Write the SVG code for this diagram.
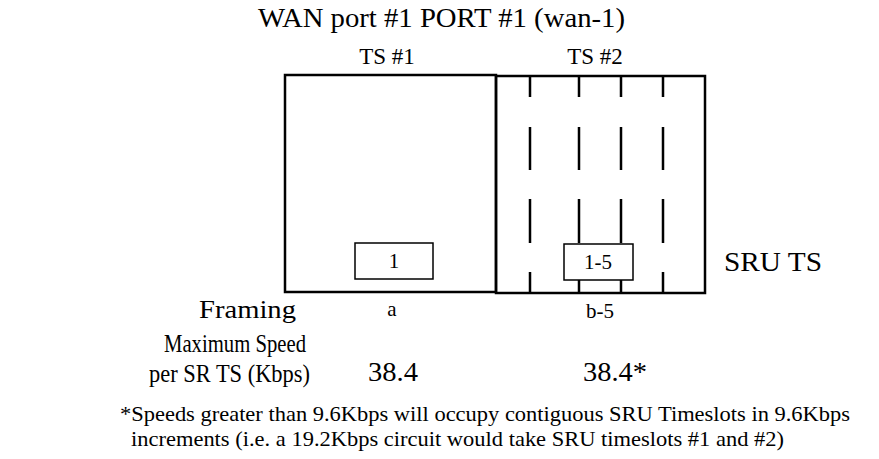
<svg xmlns="http://www.w3.org/2000/svg" width="879" height="459" viewBox="0 0 879 459">
<style>
.t{font-family:"Liberation Serif",serif}
.c{font-family:"Liberation Serif",serif;text-anchor:middle}
.box{fill:none;stroke:#000;stroke-width:2.5}
.slot{fill:#fff;stroke:#000;stroke-width:1.5}
.dash{stroke:#000;stroke-width:2.5;stroke-dasharray:21 29 44 29 43 30 21}
</style>
<rect width="879" height="459" fill="#fff"/>
<g id="title">
<text class="t" x="258" y="27" font-size="27" textLength="367" lengthAdjust="spacingAndGlyphs">WAN port #1 PORT #1 (wan-1)</text>
</g>
<g id="ts1">
<text class="c" x="387" y="64" font-size="23">TS #1</text>
<rect class="box" x="285" y="75" width="211" height="217"/>
</g>
<g id="ts2">
<text class="c" x="595" y="64" font-size="23">TS #2</text>
<rect class="box" x="496" y="76" width="209" height="217"/>
</g>
<g id="connectors">
<line class="dash" x1="530" y1="293" x2="530" y2="77"/>
<line class="dash" x1="579" y1="293" x2="579" y2="77"/>
<line class="dash" x1="621" y1="293" x2="621" y2="77"/>
<line class="dash" x1="663" y1="293" x2="663" y2="77"/>
</g>
<g id="sru1">
<rect class="slot" x="355" y="243" width="78" height="36"/>
<text class="c" x="394" y="268" font-size="21">1</text>
</g>
<g id="sru2">
<rect class="slot" x="564" y="244" width="69" height="36"/>
<text class="c" x="598" y="269" font-size="21">1-5</text>
</g>
<g id="labels">
<text class="t" x="724" y="271" font-size="27" textLength="98" lengthAdjust="spacingAndGlyphs">SRU TS</text>
<text class="t" x="199" y="318" font-size="26" textLength="97" lengthAdjust="spacingAndGlyphs">Framing</text>
<text class="c" x="392" y="316" font-size="21">a</text>
<text class="c" x="600" y="318" font-size="21">b-5</text>
<text class="t" x="164" y="352" font-size="26" textLength="142" lengthAdjust="spacingAndGlyphs">Maximum Speed</text>
<text class="t" x="149" y="382" font-size="26" textLength="161" lengthAdjust="spacingAndGlyphs">per SR TS (Kbps)</text>
<text class="t" x="368" y="381" font-size="27" textLength="50" lengthAdjust="spacingAndGlyphs">38.4</text>
<text class="t" x="583" y="381" font-size="27" textLength="64" lengthAdjust="spacingAndGlyphs">38.4*</text>
<text class="t" x="120" y="421" font-size="22" textLength="730" lengthAdjust="spacingAndGlyphs">*Speeds greater than 9.6Kbps will occupy contiguous SRU Timeslots in 9.6Kbps</text>
<text class="t" x="131" y="446" font-size="22" textLength="653" lengthAdjust="spacingAndGlyphs">increments (i.e. a 19.2Kbps circuit would take SRU timeslots #1 and #2)</text>
</g>
</svg>
